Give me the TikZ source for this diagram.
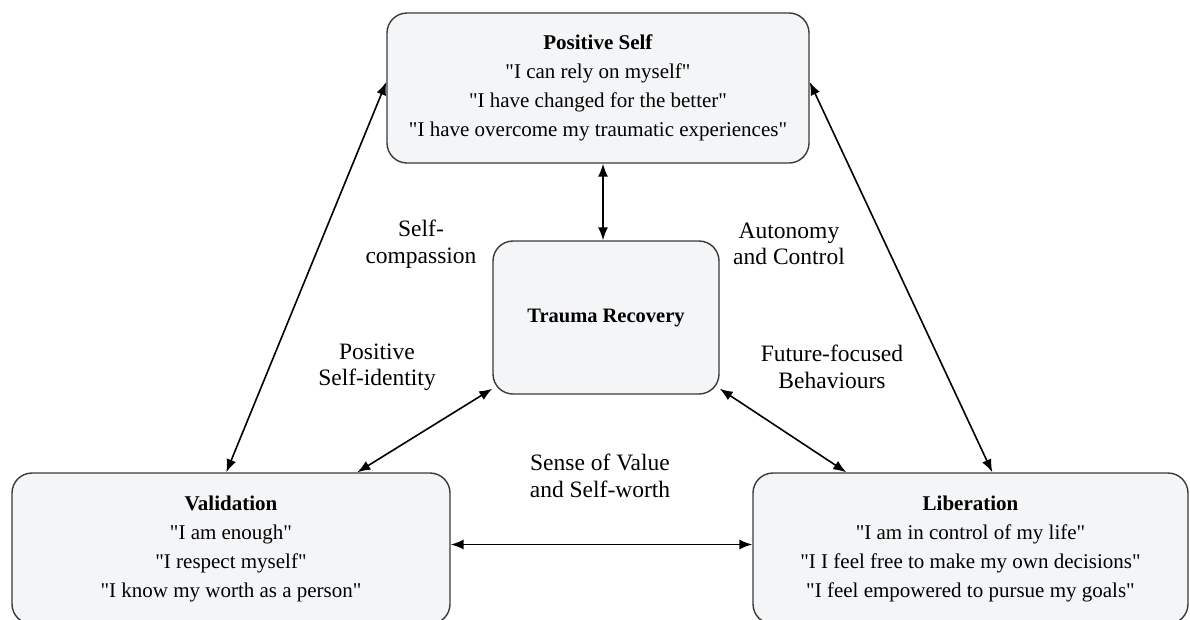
\documentclass[tikz,border=0pt]{standalone}
\usepackage{fontspec}
\setmainfont{Liberation Serif}[Ligatures=TeXOff]
\usetikzlibrary{arrows.meta}
\definecolor{boxfill}{HTML}{F4F5F7}
\definecolor{boxline}{HTML}{3A3A3A}
\begin{document}
\begin{tikzpicture}[x=1pt, y=-1pt,
  box/.style={draw=boxline, fill=boxfill, line width=1.4pt, rounded corners=20pt,
    align=center, inner sep=0pt, font=\fontsize{21}{29}\selectfont},
  lbl/.style={align=center, inner sep=0pt, font=\fontsize{23.5}{26.5}\selectfont},
  link/.style={line width=1.6pt,
    {Latex[length=13pt,width=10pt]}-{Latex[length=13pt,width=10pt]}}]
\useasboundingbox (0,0) rectangle (1190,619);
\clip (0,0) rectangle (1190,619);

% the four themes
\node[box, minimum width=422pt, minimum height=150pt] (top) at (598,88)
  {\textbf{Positive Self}\\"I can rely on myself"\\"I have changed for the better"\\"I have overcome my traumatic experiences"};
\node[box, minimum width=226pt, minimum height=153pt, font=\fontsize{20.5}{24}\selectfont\bfseries] (ctr) at (606,317.5)
  {Trauma Recovery};
\node[box, minimum width=438pt, minimum height=151pt] (val) at (231,548.5)
  {\textbf{Validation}\\"I am enough"\\"I respect myself"\\"I know my worth as a person"};
\node[box, minimum width=435pt, minimum height=151pt] (lib) at (970.5,548.5)
  {\textbf{Liberation}\\"I am in control of my life"\\"I I feel free to make my own decisions"\\"I feel empowered to pursue my goals"};

% sub-theme labels
\node[lbl] (l1) at (421,244) {Self-\\compassion};
\node[lbl] (l2) at (789,244) {Autonomy\\and Control};
\node[lbl] (l3) at (377,367) {Positive\\Self-identity};
\node[lbl] (l4) at (832,367) {Future-focused\\Behaviours};
\node[lbl] (l5) at (600,476) {Sense of Value\\and Self-worth};

% two-way links
\draw[link] ([xshift=-3pt]ctr.north |- top.south) -- ([xshift=-3pt]ctr.north);
\draw[link] ([yshift=6pt]top.west) -- ([xshift=215pt]val.north west);
\draw[link] ([yshift=6pt]top.east) -- ([xshift=240pt]lib.north west);
\draw[link] ([yshift=6pt]ctr.south west) -- ([xshift=346pt]val.north west);
\draw[link] ([yshift=6pt]ctr.south east) -- ([xshift=94pt]lib.north west);
\draw[link] ([yshift=4pt]val.east) -- ([yshift=4pt]lib.west);
\end{tikzpicture}
\end{document}
